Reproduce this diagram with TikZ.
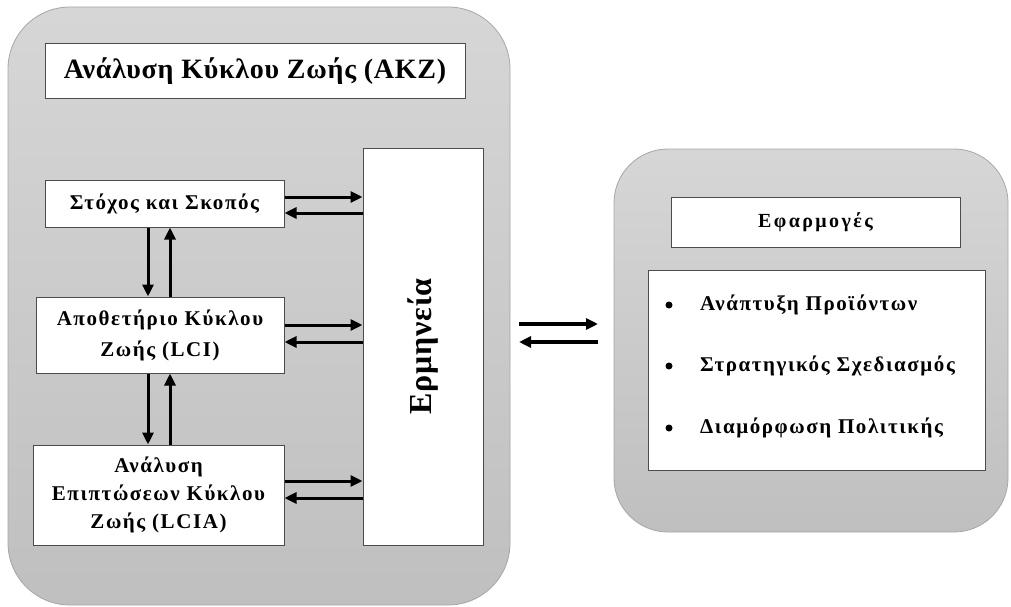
\documentclass[tikz,border=0pt]{standalone}
\usepackage{fontspec}
\setmainfont{Liberation Serif}
\newfontfamily\spaced[LetterSpace=7.5]{Liberation Serif}
\newfontfamily\widespaced[LetterSpace=12]{Liberation Serif}
\newfontfamily\lessspaced[LetterSpace=2.7]{Liberation Serif}
\usetikzlibrary{arrows.meta,calc}
\tikzset{
  panel/.style={draw=black!35, line width=0.8pt, top color=black!16, bottom color=black!25, rounded corners=#1},
  box/.style={draw=black!70, line width=1pt, fill=white, inner sep=2pt, align=center, font=\spaced\bfseries\fontsize{21}{28}\selectfont},
  arr/.style={line width=3pt, -{Triangle[length=12pt,width=11pt]}},
  itemtxt/.style={anchor=west, inner sep=0pt, font=\spaced\bfseries\fontsize{21}{24}\selectfont},
  bul/.style={circle, fill=black, inner sep=0pt, minimum size=7pt}
}
\begin{document}
\begin{tikzpicture}[x=1pt,y=-1pt]
\useasboundingbox (0,0) rectangle (1011,607);
% panels
\path[panel=62pt] (8,7) rectangle (510,605);
\path[panel=54pt] (614,149) rectangle (1008,532);
% left boxes
\node[box, minimum width=420pt, minimum height=55pt, font=\lessspaced\bfseries\fontsize{28}{32}\selectfont] (t) at (255,71.5) {Ανάλυση Κύκλου Ζωής (AKZ)};
\node[box, minimum width=239pt, minimum height=47pt] (s) at (164.5,203.5) {Στόχος και Σκοπός};
\node[box, minimum width=248pt, minimum height=76pt, font=\spaced\bfseries\fontsize{21}{31}\selectfont] (a) at (160,335) {Αποθετήριο Κύκλου\\Ζωής (LCI)};
\node[box, minimum width=251pt, minimum height=100pt] (l) at (158.5,495) {Ανάλυση\\Επιπτώσεων Κύκλου\\Ζωής (LCIA)};
\node[box, minimum width=120pt, minimum height=397pt] (e) at (423,346.5) {};
\node[rotate=90, font=\lessspaced\bfseries\fontsize{32}{34}\selectfont, inner sep=0pt] (et) at (e.center) {Ερμηνεία};
% right boxes
\node[box, minimum width=289pt, minimum height=50pt, font=\widespaced\bfseries\fontsize{20}{22}\selectfont] (f) at (815.5,222) {Εφαρμογές};
\node[box, minimum width=337pt, minimum height=200pt] (lst) at (816.5,370) {};
\node[bul] (b1) at (669,305) {};
\node[bul] (b2) at (669,366) {};
\node[bul] (b3) at (669,428) {};
\node[itemtxt] (i1) at (700,305) {Ανάπτυξη Προϊόντων};
\node[itemtxt] (i2) at (700,366) {Στρατηγικός Σχεδιασμός};
\node[itemtxt] (i3) at (700,428) {Διαμόρφωση Πολιτικής};
% horizontal arrows to/from Ερμηνεία
\draw[arr] (s.east |- 0,197) -- (e.west |- 0,197);
\draw[arr] (e.west |- 0,213) -- (s.east |- 0,213);
\draw[arr] (a.east |- 0,325) -- (e.west |- 0,325);
\draw[arr] (e.west |- 0,342) -- (a.east |- 0,342);
\draw[arr] (l.east |- 0,481) -- (e.west |- 0,481);
\draw[arr] (e.west |- 0,498) -- (l.east |- 0,498);
% vertical arrows
\draw[arr] (148,0 |- s.south) -- (148,0 |- a.north);
\draw[arr] (170,0 |- a.north) -- (170,0 |- s.south);
\draw[arr] (148,0 |- a.south) -- (148,0 |- l.north);
\draw[arr] (170,0 |- l.north) -- (170,0 |- a.south);
% arrows between panels
\coordinate (m1) at (519,324);
\coordinate (m2) at (598,324);
\coordinate (m3) at (598,342);
\coordinate (m4) at (519,342);
\draw[arr, line width=3.5pt] (m1) -- (m2);
\draw[arr, line width=3.5pt] (m3) -- (m4);
\end{tikzpicture}
\end{document}
